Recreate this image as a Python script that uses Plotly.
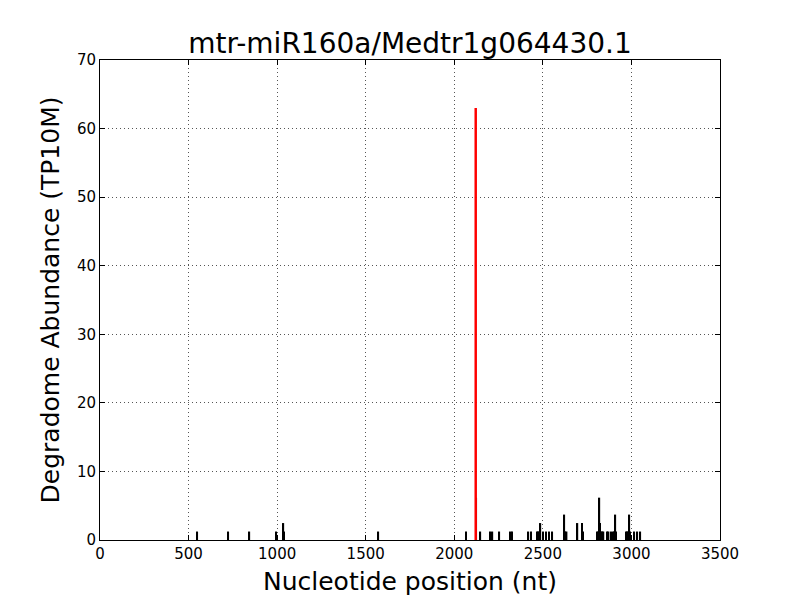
import plotly.graph_objects as go

title = "mtr-miR160a/Medtr1g064430.1"
read_unit = 1.235  # TP10M per read

black_pos = [549, 724, 843, 995, 1035, 1040, 1571, 2066, 2124, 2147, 2202, 2215, 2254,
             2318, 2325, 2418, 2433, 2468, 2474, 2480, 2486, 2502, 2519, 2536, 2553,
             2621, 2627, 2634, 2695, 2721, 2726, 2808, 2813, 2819, 2823, 2830, 2836,
             2842, 2864, 2871, 2886, 2898, 2904, 2909, 2914, 2971, 2976, 2982, 2988,
             2993, 3016, 3033, 3050]
black_reads = [1, 1, 1, 1, 2, 1, 1, 1, 5, 1, 1, 1, 1,
               1, 1, 1, 1, 1, 1, 1, 2, 1, 1, 1, 1,
               3, 1, 1, 2, 2, 1, 1, 1, 5, 2, 1, 1,
               1, 1, 1, 1, 1, 1, 3, 1, 1, 1, 1, 3,
               1, 1, 1, 1]
red_pos = [2121]
red_reads = [51]

black_vals = [r * read_unit for r in black_reads]
red_vals = [r * read_unit for r in red_reads]

fig = go.Figure()
fig.add_trace(go.Bar(x=black_pos, y=black_vals, width=9, marker=dict(color="black", line_width=0),
                     showlegend=False))
fig.add_trace(go.Bar(x=red_pos, y=red_vals, width=14, marker=dict(color="red", line_width=0),
                     showlegend=False))

font = "DejaVu Sans, sans-serif"
axis_common = dict(showline=True, linecolor="black", linewidth=1, mirror="allticks",
                   ticks="inside", ticklen=5, tickcolor="black", automargin=False,
                   showgrid=True, gridcolor="#555555", griddash="1px,3px", gridwidth=1,
                   zeroline=False, tickfont=dict(family=font, size=15, color="black"))
fig.update_layout(
    width=800, height=600, barmode="overlay",
    margin=dict(l=92, r=88, t=52, b=68),
    paper_bgcolor="white", plot_bgcolor="white",
    title=dict(text=title, x=0.5025, xanchor="center", y=0.9417, yanchor="middle",
               font=dict(family=font, size=28, color="black")),
    xaxis=dict(range=[0, 3500], dtick=500, tick0=0,
               title=dict(text="Nucleotide position (nt)", font=dict(family=font, size=25, color="black"),
                          standoff=10),
               **axis_common),
    yaxis=dict(range=[0, 70], dtick=10, tick0=0,
               title=dict(text="Degradome Abundance (TP10M)", font=dict(family=font, size=25, color="black"),
                          standoff=10),
               **axis_common),
)
fig.write_html("out.html")
